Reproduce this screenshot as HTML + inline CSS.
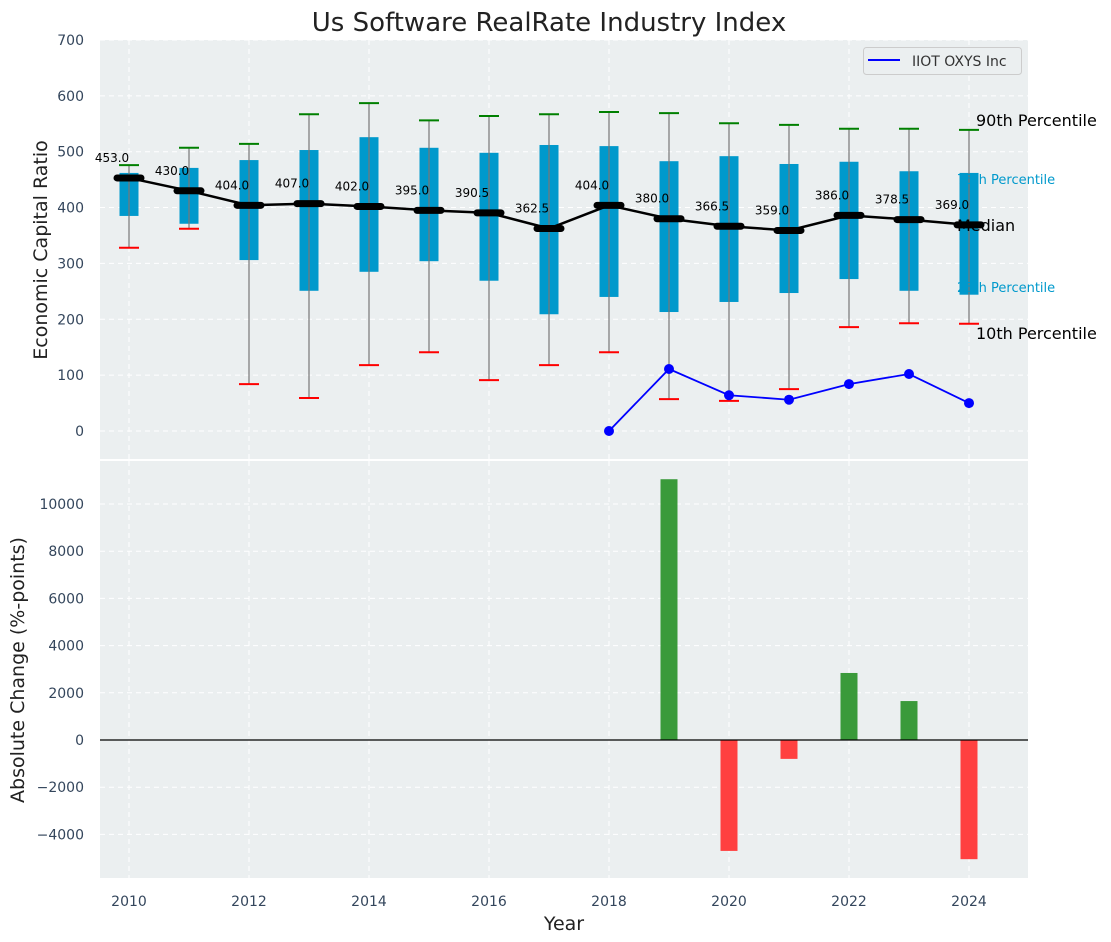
<!DOCTYPE html>
<html><head><meta charset="utf-8"><style>
body{margin:0;background:#fff;}
svg{display:block;font-family:"DejaVu Sans","Liberation Sans",sans-serif;}
</style></head><body>
<svg id="chart" width="1111" height="942" viewBox="0 0 1111 942"></svg>
<script>
const years=[2010,2011,2012,2013,2014,2015,2016,2017,2018,2019,2020,2021,2022,2023,2024];
const p90=[476,507,514,567,587,556,564,567,571,569,551,548,541,541,539];
const q3=[462,471,485,503,526,507,498,512,510,483,492,478,482,465,462];
const medians=[453,430,404,407,402,395,390.5,362.5,404,380,366.5,359,386,378.5,369];
const q1=[385,371,306,251,285,304,269,209,240,213,231,247,272,251,244];
const p10=[328,362,84,59,118,141,91,118,141,57,54,75,186,193,192];
const iiotYears=[2018,2019,2020,2021,2022,2023,2024];
const iiotValues=[0,111,64,56,84,102,50];
const changeYears=[2019,2020,2021,2022,2023,2024];
const changeValues=[11050,-4700,-800,2840,1650,-5050];
const topTicks=[0,100,200,300,400,500,600,700];
const botTicks=[-4000,-2000,0,2000,4000,6000,8000,10000];
const xTicks=[2010,2012,2014,2016,2018,2020,2022,2024];

const NS="http://www.w3.org/2000/svg";
const svg=document.getElementById('chart');
function mk(tag,attrs,parent){const e=document.createElementNS(NS,tag);for(const k in attrs)e.setAttribute(k,attrs[k]);(parent||svg).appendChild(e);return e;}
const X=y=>129+(y-2010)*60;
const YT=v=>431-v*0.5586;
const YB=v=>740-v*0.0236;
const L=100,R=1028,T1=40,B1=459,T2=461,B2=878;
const fmt=t=>t<0?'\u2212'+Math.abs(t):String(t);
const TC='#34465c';

let e;
e=mk('rect',{x:L,y:T1,width:R-L,height:B1-T1,fill:'#ebeff0'});


e=mk('rect',{x:L,y:T2,width:R-L,height:B2-T2,fill:'#ebeff0'});



xTicks.forEach(t=>{
  mk('line',{x1:X(t),x2:X(t),y1:T1,y2:B1,stroke:'#fff','stroke-dasharray':'5,4','stroke-width':1});
  mk('line',{x1:X(t),x2:X(t),y1:T2,y2:B2,stroke:'#fff','stroke-dasharray':'5,4','stroke-width':1});
  e=mk('text',{x:X(t),y:906,'text-anchor':'middle','font-size':14,fill:TC});
  e.textContent=t;
  
  
});
topTicks.forEach(t=>{
  mk('line',{x1:L,x2:R,y1:YT(t),y2:YT(t),stroke:'#fff','stroke-dasharray':'5,4'});
  e=mk('text',{x:84,y:YT(t)+5,'text-anchor':'end','font-size':14,fill:TC});
  e.textContent=fmt(t);
  
  
});
botTicks.forEach(t=>{
  mk('line',{x1:L,x2:R,y1:YB(t),y2:YB(t),stroke:'#fff','stroke-dasharray':'5,4'});
  e=mk('text',{x:84,y:YB(t)+5,'text-anchor':'end','font-size':14,fill:TC});
  e.textContent=fmt(t);
  
  
});

years.forEach((yr,i)=>{
  const x=X(yr);
  e=mk('rect',{x:x-9.5,y:YT(q3[i]),width:19,height:YT(q1[i])-YT(q3[i]),fill:'#0099cc'});
  
  
  e=mk('line',{x1:x,x2:x,y1:YT(p90[i]),y2:YT(p10[i]),stroke:'#777','stroke-width':1.2});
  
  
  e=mk('line',{x1:x-10,x2:x+10,y1:YT(p90[i]),y2:YT(p90[i]),stroke:'green','stroke-width':2});
  
  
  e=mk('line',{x1:x-10,x2:x+10,y1:YT(p10[i]),y2:YT(p10[i]),stroke:'red','stroke-width':2});
  
  
});
e=mk('polyline',{points:years.map((y,i)=>X(y)+','+YT(medians[i])).join(' '),fill:'none',stroke:'#000','stroke-width':2.5});


years.forEach((yr,i)=>{
  const x=X(yr),y=YT(medians[i]);
  e=mk('line',{x1:x-12,x2:x+12,y1:y,y2:y,stroke:'#000','stroke-width':7,'stroke-linecap':'round'});
  
  
  e=mk('text',{x:x-17,y:y-16,'text-anchor':'middle','font-size':12,fill:'#000'});
  e.textContent=medians[i].toFixed(1);
  
  
});
e=mk('polyline',{points:iiotYears.map((y,i)=>X(y)+','+YT(iiotValues[i])).join(' '),fill:'none',stroke:'#0000ff','stroke-width':1.8});


iiotYears.forEach((y,i)=>{
  e=mk('circle',{cx:X(y),cy:YT(iiotValues[i]),r:5,fill:'#0000ff'});
  
  
});

[['90th Percentile',976,126,16,'#000'],['75th Percentile',957,184,13,'#0099cc'],['Median',957,231,16,'#000'],['25th Percentile',957,292,13,'#0099cc'],['10th Percentile',976,339,16,'#000']].forEach(a=>{
  e=mk('text',{x:a[1],y:a[2],'font-size':a[3],fill:a[4]});
  e.textContent=a[0];
  
  
});

const lg=mk('g',{});


mk('rect',{x:863.5,y:47.5,width:158,height:27,rx:3,fill:'#ebeff0',stroke:'#ccc'},lg);
mk('line',{x1:868,x2:900,y1:60,y2:60,stroke:'#0000ff','stroke-width':2},lg);
e=mk('text',{x:912,y:66,'font-size':14,fill:'#333'},lg);
e.textContent='IIOT OXYS Inc';

changeYears.forEach((y,i)=>{
  const v=changeValues[i];
  e=mk('rect',{x:X(y)-8.5,y:Math.min(YB(v),YB(0)),width:17,height:Math.abs(YB(v)-YB(0)),fill:v>=0?'#3a9a3a':'#ff4040'});
  
  
});
e=mk('line',{x1:L,x2:R,y1:YB(0),y2:YB(0),stroke:'#000','stroke-width':1.2});



e=mk('text',{x:549,y:31,'text-anchor':'middle','font-size':26,fill:'#222'});
e.textContent='Us Software RealRate Industry Index';


e=mk('text',{x:0,y:0,'text-anchor':'middle','font-size':19,fill:'#222',transform:'translate(47,250) rotate(-90)'});
e.textContent='Economic Capital Ratio';


e=mk('text',{x:0,y:0,'text-anchor':'middle','font-size':19,fill:'#222',transform:'translate(24,670) rotate(-90)'});
e.textContent='Absolute Change (%-points)';


e=mk('text',{x:564,y:930,'text-anchor':'middle','font-size':19,fill:'#222'});
e.textContent='Year';


</script>
</body></html>
